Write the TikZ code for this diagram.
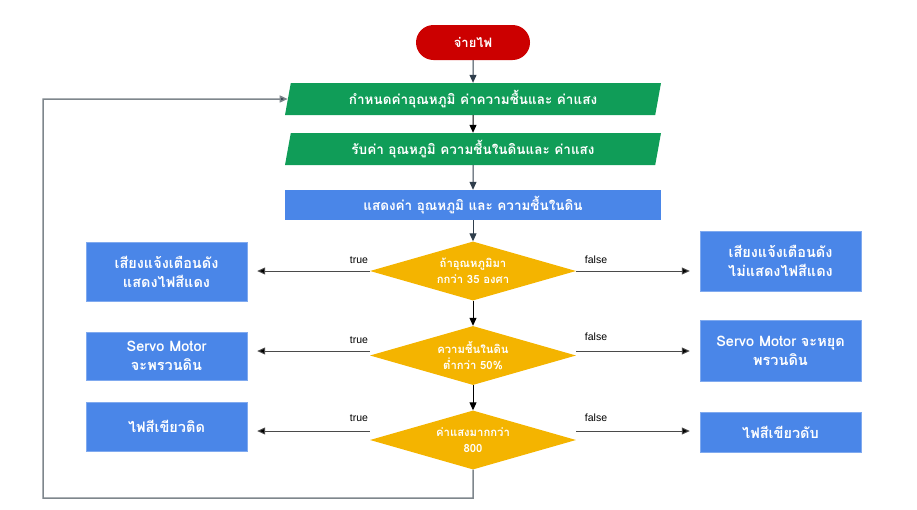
\documentclass[tikz,border=0pt]{standalone}
\usepackage{fontspec}
\setmainfont{Liberation Sans}
\newfontfamily\thaifont[Script=Thai]{Loma}
\usetikzlibrary{arrows.meta,shapes.geometric}
\definecolor{cred}{HTML}{CC0000}
\definecolor{cgreen}{HTML}{109D58}
\definecolor{cblue}{HTML}{4A86E8}
\definecolor{cyel}{HTML}{F4B400}
\definecolor{cslate}{HTML}{2F3E4C}
\definecolor{cgray}{HTML}{7E868C}
\definecolor{cline}{HTML}{4A4A4A}
\begin{document}
\begin{tikzpicture}[x=1pt,y=-1pt,
  txt/.style={text=white,font=\thaifont\bfseries\fontsize{13.5}{18}\selectfont,align=center,inner sep=0pt},
  term/.style={txt,fill=cred,rounded corners=17.5pt,minimum width=114pt,minimum height=35pt,
    font=\thaifont\bfseries\fontsize{13}{18}\selectfont},
  para/.style={txt,fill=cgreen,trapezium,trapezium left angle=72,trapezium right angle=108,
    trapezium stretches body,minimum width=376pt,minimum height=32pt},
  rectb/.style={txt,fill=cblue,minimum width=376pt,minimum height=30pt},
  dec/.style={txt,fill=cyel,diamond,aspect=3.5,minimum width=206pt,minimum height=59pt,
    font=\thaifont\bfseries\fontsize{11.3}{15.5}\selectfont},
  box/.style={txt,fill=cblue,draw=cblue!70!white,minimum width=161pt,
    font=\thaifont\bfseries\fontsize{14.5}{19}\selectfont},
  lab/.style={font=\fontsize{10.5}{12}\selectfont,inner sep=0pt},
  arr/.style={-{Triangle[length=8pt,width=7pt]},line width=1pt},
  darr/.style={-{Triangle[length=8pt,width=7pt,fill=black]},draw=cline,line width=1pt},
]
\useasboundingbox (0,0) rectangle (917,509);

\node[term] (t) at (473,42.5) {จ่ายไฟ};
\node[para] (p1) at (473,99) {กำหนดค่าอุณหภูมิ ค่าความชื้นและ ค่าแสง};
\node[para] (p2) at (473,149) {รับค่า อุณหภูมิ ความชื้นในดินและ ค่าแสง};
\node[rectb] (r) at (473,205) {แสดงค่า อุณหภูมิ และ ความชื้นในดิน};

\node[dec] (d1) at (473,271) {ถ้าอุณหภูมิมา\\กกว่า 35 องศา};
\node[dec] (d2) at (473,355.5) {ความชื้นในดิน\\ต่ำกว่า 50\%};
\node[dec] (d3) at (473,440) {ค่าแสงมากกว่า\\800};

\node[box,minimum height=59pt] (l1) at (166.5,271.5) {เสียงแจ้งเตือนดัง\\แสดงไฟสีแดง};
\node[box,minimum height=48pt] (l2) at (166.5,356) {Servo Motor\\จะพรวนดิน};
\node[box,minimum height=49pt] (l3) at (166.5,426.5) {ไฟสีเขียวติด};

\node[box,minimum height=60pt] (r1) at (780.5,261) {เสียงแจ้งเตือนดัง\\ไม่แสดงไฟสีแดง};
\node[box,minimum height=61pt] (r2) at (780.5,350.5) {Servo Motor จะหยุด\\พรวนดิน};
\node[box,minimum height=40pt] (r3) at (780.5,432) {ไฟสีเขียวดับ};

\node[lab] (tr1) at (359,260) {true};
\node[lab] (fa1) at (596,260) {false};
\node[lab] (tr2) at (359,340) {true};
\node[lab] (fa2) at (596,337) {false};
\node[lab] (tr3) at (359,418) {true};
\node[lab] (fa3) at (596,418) {false};

\draw[arr,cslate] (t) -- (p1);
\draw[arr,black] (p1) -- (p2);
\draw[arr,cslate] (p2) -- (r);
\draw[arr,cslate] (r) -- (d1);
\draw[arr,black] (d1) -- (d2);
\draw[arr,black] (d2) -- (d3);

\draw[darr] (d1.west) -- ([xshift=10pt]l1.east |- d1.west);
\draw[darr] (d1.east) -- ([xshift=-10pt]r1.west |- d1.east);
\draw[darr] ([yshift=4.5pt]d2.west) -- ([xshift=10pt,yshift=4.5pt]l2.east |- d2.west);
\draw[darr] ([yshift=4.5pt]d2.east) -- ([xshift=-10pt,yshift=4.5pt]r2.west |- d2.east);
\draw[darr] ([yshift=9pt]d3.west) -- ([xshift=10pt,yshift=9pt]l3.east |- d3.west);
\draw[darr] ([yshift=9pt]d3.east) -- ([xshift=-10pt,yshift=9pt]r3.west |- d3.east);

\coordinate (lb) at (43,498);
\coordinate (lt) at (43,99);
\draw[cgray,line width=1.5pt,-{Triangle[length=8pt,width=7pt,fill=cslate]}]
  (d3.south) |- (lb) -- (lt) -- (p1.west);
\end{tikzpicture}
\end{document}
